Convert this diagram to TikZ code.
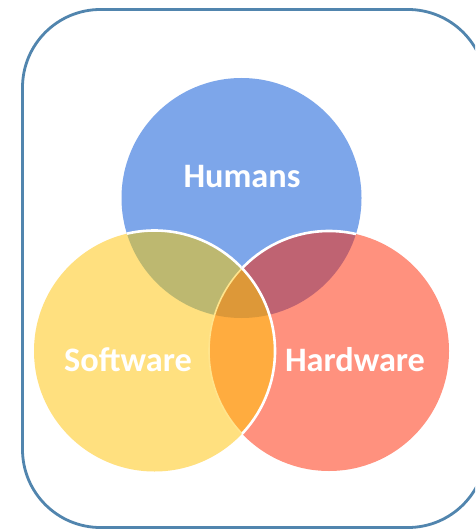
\documentclass[tikz,border=0pt]{standalone}
\usepackage{fontspec}
\setmainfont{Carlito}
\definecolor{frameblue}{HTML}{5185AE}
\definecolor{cblue}{HTML}{7DA6EA}
\definecolor{cyellow}{HTML}{FFE07F}
\definecolor{cred}{HTML}{FF917E}
\definecolor{cby}{HTML}{BDB870}
\definecolor{cbr}{HTML}{BF6372}
\definecolor{cyr}{HTML}{FFAC3F}
\definecolor{cbyr}{HTML}{DD9838}
\definecolor{edgeyellow}{HTML}{FFE48C}
\tikzset{
  x=1pt,y=-1pt,
  label text/.style={text=white,font=\bfseries\fontsize{34.3}{38}\selectfont,inner sep=0pt,anchor=center},
  frame line/.style={draw=frameblue,line width=2.8pt},
  white edge/.style={draw=white,line width=2.6pt},
  pale edge/.style={draw=edgeyellow,line width=1.6pt}
}
\newcommand{\blueC}{(241.5,198) circle[radius=120]}
\newcommand{\yellowC}{(154.5,351) circle[radius=120.5]}
\newcommand{\redC}{(329,351) circle[radius=120]}
\begin{document}
\begin{tikzpicture}
\useasboundingbox (0,0) rectangle (475,529);
\begin{scope}
\clip (0,0) rectangle (475,529);
\fill[white] (0,0) rectangle (475,529);
\draw[frame line,rounded corners=78pt] (22.5,9.5) rectangle (486,527.5);
% circles
\fill[cblue] \blueC;
\fill[cred] \redC;
\fill[cyellow] \yellowC;
% pairwise overlaps
\begin{scope}\clip \blueC; \fill[cby] \yellowC; \end{scope}
\begin{scope}\clip \blueC; \fill[cbr] \redC; \end{scope}
\begin{scope}\clip \yellowC; \fill[cyr] \redC; \end{scope}
% centre
\begin{scope}\clip \blueC; \clip \yellowC; \fill[cbyr] \redC; \end{scope}
% edges: red's left edge inside yellow, pale
\begin{scope}\clip \yellowC; \draw[pale edge] \redC; \end{scope}
% yellow's top edge and right edge, red's top edge: white
\begin{scope}
  \clip \blueC;
  \clip (100,210) rectangle (241.5,268.5);
  \draw[white edge] \yellowC;
\end{scope}
\begin{scope}
  \clip \blueC;
  \clip (241.5,210) rectangle (380,268.5);
  \draw[white edge] \redC;
\end{scope}
\begin{scope}
  \clip (241.5,266) rectangle (290,434);
  \draw[white edge] \yellowC;
\end{scope}
\end{scope}
\node[label text] (humans) at (242,177) {Humans};
\node[label text] (software) at (128,360) {Software};
\node[label text] (hardware) at (355,360) {Hardware};
\end{tikzpicture}
\end{document}
